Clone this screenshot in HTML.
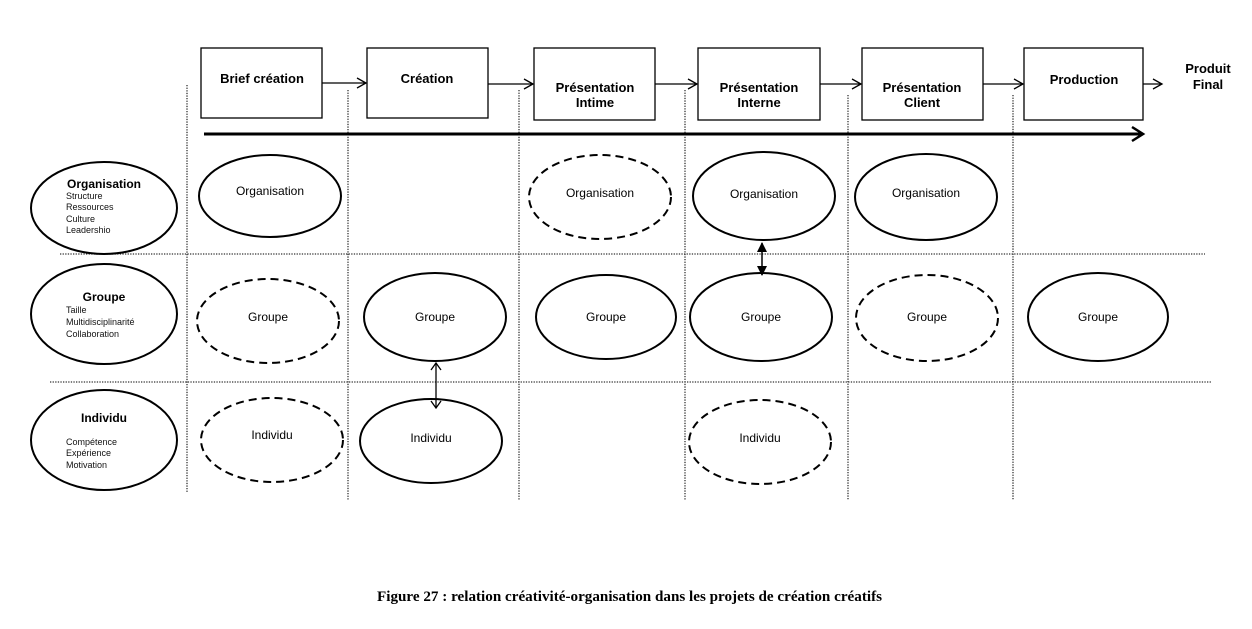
<!DOCTYPE html>
<html><head><meta charset="utf-8"><style>html,body{margin:0;padding:0;background:#fff}svg{display:block}</style></head>
<body>
<svg width="1252" height="629" viewBox="0 0 1252 629" xmlns="http://www.w3.org/2000/svg" font-family="Liberation Sans, Arial, sans-serif">
<defs>
<marker id="open" markerWidth="12" markerHeight="12" refX="10" refY="6" orient="auto" markerUnits="userSpaceOnUse"><path d="M1,1 L10,6 L1,11" fill="none" stroke="#000" stroke-width="1.3"/></marker>
<marker id="fill" markerWidth="10" markerHeight="10" refX="9" refY="5" orient="auto-start-reverse" markerUnits="userSpaceOnUse"><path d="M0,0 L10,5 L0,10 z" fill="#000"/></marker>
</defs>
<g stroke="#333" stroke-width="1.3" stroke-dasharray="1.3,1.3">
<line x1="187" y1="85" x2="187" y2="493"/>
<line x1="348" y1="90" x2="348" y2="500"/>
<line x1="519" y1="90" x2="519" y2="500"/>
<line x1="685" y1="90" x2="685" y2="500"/>
<line x1="848" y1="95" x2="848" y2="500"/>
<line x1="1013" y1="95" x2="1013" y2="500"/>
<line x1="60" y1="254" x2="1205" y2="254"/>
<line x1="50" y1="382" x2="1212" y2="382"/>
</g>
<g fill="#fff" stroke="#000" stroke-width="1.3">
<rect x="201" y="48" width="121" height="70"/>
<rect x="367" y="48" width="121" height="70"/>
<rect x="534" y="48" width="121" height="72"/>
<rect x="698" y="48" width="122" height="72"/>
<rect x="862" y="48" width="121" height="72"/>
<rect x="1024" y="48" width="119" height="72"/>
</g>
<g stroke="#000" stroke-width="1.3" marker-end="url(#open)">
<line x1="322" y1="83" x2="366" y2="83"/>
<line x1="488" y1="84" x2="533" y2="84"/>
<line x1="655" y1="84" x2="697" y2="84"/>
<line x1="820" y1="84" x2="861" y2="84"/>
<line x1="983" y1="84" x2="1023" y2="84"/>
<line x1="1143" y1="84" x2="1162" y2="84"/>
</g>
<line x1="204" y1="134" x2="1142" y2="134" stroke="#000" stroke-width="3"/>
<path d="M1132,127 L1143,134 L1132,141" fill="none" stroke="#000" stroke-width="2.5"/>
<g font-weight="bold" font-size="13" text-anchor="middle" fill="#000">
<text x="262" y="83">Brief création</text>
<text x="427" y="83">Création</text>
<text x="595" y="92">Présentation</text><text x="595" y="107">Intime</text>
<text x="759" y="92">Présentation</text><text x="759" y="107">Interne</text>
<text x="922" y="92">Présentation</text><text x="922" y="107">Client</text>
<text x="1084" y="84">Production</text>
<text x="1208" y="73">Produit</text><text x="1208" y="89">Final</text>
</g>
<g fill="none" stroke="#000" stroke-width="2">
<ellipse cx="104" cy="208" rx="73" ry="46"/>
<ellipse cx="104" cy="314" rx="73" ry="50"/>
<ellipse cx="104" cy="440" rx="73" ry="50"/>
<ellipse cx="270" cy="196" rx="71" ry="41"/>
<ellipse cx="764" cy="196" rx="71" ry="44"/>
<ellipse cx="926" cy="197" rx="71" ry="43"/>
<ellipse cx="435" cy="317" rx="71" ry="44"/>
<ellipse cx="606" cy="317" rx="70" ry="42"/>
<ellipse cx="761" cy="317" rx="71" ry="44"/>
<ellipse cx="1098" cy="317" rx="70" ry="44"/>
<ellipse cx="431" cy="441" rx="71" ry="42"/>
</g>
<g fill="none" stroke="#000" stroke-width="2" stroke-dasharray="8,5">
<ellipse cx="600" cy="197" rx="71" ry="42"/>
<ellipse cx="268" cy="321" rx="71" ry="42"/>
<ellipse cx="927" cy="318" rx="71" ry="43"/>
<ellipse cx="272" cy="440" rx="71" ry="42"/>
<ellipse cx="760" cy="442" rx="71" ry="42"/>
</g>
<line x1="436" y1="363" x2="436" y2="408" stroke="#000" stroke-width="1.3"/>
<path d="M431,370 L436,363 L441,370 M431,401 L436,408 L441,401" fill="none" stroke="#000" stroke-width="1.3"/>
<line x1="762" y1="243" x2="762" y2="275" stroke="#000" stroke-width="1.5" marker-start="url(#fill)" marker-end="url(#fill)"/>
<g font-size="12" text-anchor="middle" fill="#000">
<text x="270" y="195">Organisation</text>
<text x="600" y="197">Organisation</text>
<text x="764" y="198">Organisation</text>
<text x="926" y="197">Organisation</text>
<text x="268" y="321">Groupe</text>
<text x="435" y="321">Groupe</text>
<text x="606" y="321">Groupe</text>
<text x="761" y="321">Groupe</text>
<text x="927" y="321">Groupe</text>
<text x="1098" y="321">Groupe</text>
<text x="272" y="439">Individu</text>
<text x="431" y="442">Individu</text>
<text x="760" y="442">Individu</text>
</g>
<g font-weight="bold" font-size="12" text-anchor="middle" fill="#000">
<text x="104" y="188">Organisation</text>
<text x="104" y="301">Groupe</text>
<text x="104" y="422">Individu</text>
</g>
<g font-size="9" fill="#111">
<text x="66" y="199">Structure</text>
<text x="66" y="210">Ressources</text>
<text x="66" y="222">Culture</text>
<text x="66" y="233">Leadershio</text>
<text x="66" y="313">Taille</text>
<text x="66" y="325">Multidisciplinarité</text>
<text x="66" y="337">Collaboration</text>
<text x="66" y="445">Compétence</text>
<text x="66" y="456">Expérience</text>
<text x="66" y="468">Motivation</text>
</g>
<text x="377" y="601" font-family="Liberation Serif, serif" font-weight="bold" font-size="14.5" textLength="505" lengthAdjust="spacingAndGlyphs">Figure 27 : relation créativité-organisation dans les projets de création créatifs</text>
</svg>
</body></html>
